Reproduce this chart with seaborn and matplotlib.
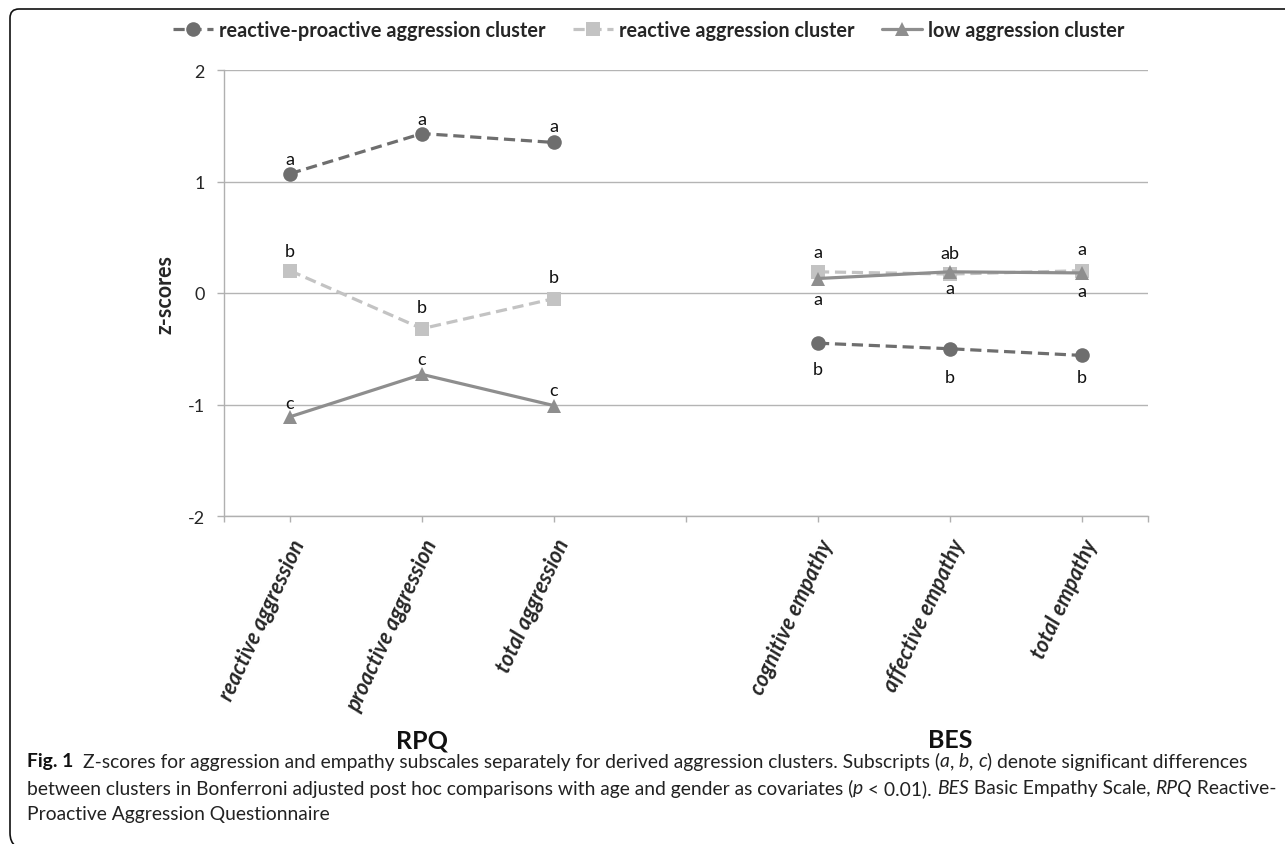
import pandas as pd
import seaborn as sns
import matplotlib.pyplot as plt
from matplotlib.lines import Line2D
from matplotlib.path import Path
from matplotlib.patches import PathPatch

# subscales of the two questionnaires
rpq_items = ["reactive aggression", "proactive aggression", "total aggression"]
bes_items = ["cognitive empathy", "affective empathy", "total empathy"]
scale_names = ["RPQ", "BES"]
cluster_names = ["reactive-proactive aggression cluster",
                 "reactive aggression cluster",
                 "low aggression cluster"]

# z-scores
rp_rpq = [1.07, 1.43, 1.35]
rp_bes = [-0.45, -0.50, -0.56]
re_rpq = [0.20, -0.32, -0.05]
re_bes = [0.19, 0.17, 0.20]
low_rpq = [-1.11, -0.73, -1.01]
low_bes = [0.13, 0.19, 0.18]

# post hoc subscripts
rp_letters = ["a", "a", "a", "b", "b", "b"]
re_letters = ["b", "b", "b", "a", "ab", "a"]
low_letters = ["c", "c", "c", "a", "a", "a"]

W, H = 1285, 845
sns.set_theme(style="white")
plt.rcParams['font.family'] = ['Lato', 'DejaVu Sans']

colors = {cluster_names[0]: "#6e6e6e", cluster_names[1]: "#c3c3c3", cluster_names[2]: "#8e8e8e"}
markers = {cluster_names[0]: "o", cluster_names[1]: "s", cluster_names[2]: "^"}
mksize = {cluster_names[0]: 10.5, cluster_names[1]: 9.5, cluster_names[2]: 10.5}
lstyle = {cluster_names[0]: (0, (3.5, 1.8)), cluster_names[1]: (0, (3.5, 1.8)), cluster_names[2]: "-"}

# long table: positions 0-2 for RPQ, 4-6 for BES (slot 3 is the gap)
rows = []
series = [(cluster_names[0], rp_rpq, rp_bes, rp_letters),
          (cluster_names[1], re_rpq, re_bes, re_letters),
          (cluster_names[2], low_rpq, low_bes, low_letters)]
for name, v_rpq, v_bes, letters in series:
    for i, item in enumerate(rpq_items):
        rows.append(dict(cluster=name, scale="RPQ", item=item, pos=i, z=v_rpq[i], letter=letters[i]))
    for i, item in enumerate(bes_items):
        rows.append(dict(cluster=name, scale="BES", item=item, pos=i + 4, z=v_bes[i], letter=letters[i + 3]))
df = pd.DataFrame(rows)

fig = plt.figure(figsize=(W / 100, H / 100), dpi=100)
ax = fig.add_axes([224 / W, 1 - 517 / H, (1148 - 224) / W, (517 - 71) / H])

for name in cluster_names:
    for sc in scale_names:
        sub = df[(df.cluster == name) & (df.scale == sc)]
        sns.lineplot(data=sub, x="pos", y="z", ax=ax, color=colors[name], linestyle=lstyle[name],
                     lw=2.3, marker=markers[name], markersize=mksize[name], markeredgewidth=0,
                     legend=False, zorder=3)

# subscript letters: above or below the marker (offset in px)
offsets = {
    cluster_names[0]: [15, 15, 16, -26, -28, -22],
    cluster_names[1]: [20, 22, 22, 20, 21, 22],
    cluster_names[2]: [14, 15, 16, -20, -16, -18],
}
for name in cluster_names:
    sub = df[df.cluster == name].reset_index(drop=True)
    for k, r in sub.iterrows():
        ax.annotate(r["letter"], (r["pos"], r["z"]), xytext=(0, offsets[name][k] * 0.72),
                    textcoords="offset points", ha="center", va="center", fontsize=13, color="#111")

ax.set_xlim(-0.5, 6.5)
ax.set_ylim(-2, 2)
ax.set_yticks([-2, -1, 0, 1, 2])
ax.set_yticklabels(["-2", "-1", "0", "1", "2"])
ax.set_xticks(range(7))
ax.set_xticklabels(rpq_items + [""] + bes_items, rotation=65, ha="right", rotation_mode="anchor",
                   fontsize=15.5, fontweight="bold", fontstyle="italic")
ax.set_xticks([-0.5, 6.5], minor=True)
ax.tick_params(axis="x", which="both", direction="out", length=4, width=1, color="#b0b0b0",
               bottom=True, pad=10)
ax.tick_params(axis="y", direction="out", length=5, width=1, color="#b0b0b0", left=True,
               labelsize=13, pad=9)
ax.grid(axis="y", color="#b4b4b4", lw=1)
ax.set_xlabel("")
ax.set_ylabel("z-scores", fontsize=15.5, fontweight="bold")
ax.yaxis.set_label_coords(-0.052, 0.5)
for s in ["top", "right"]:
    ax.spines[s].set_visible(False)
for s in ["left", "bottom"]:
    ax.spines[s].set_color("#b0b0b0")
    ax.spines[s].set_linewidth(1)

# questionnaire names under each block
for sc, center in zip(scale_names, [1, 5]):
    fig.text((224 + (center + 0.5) * 132) / W, 1 - 741 / H, sc, ha="center", va="center",
             fontsize=18, fontweight="bold", color="#111")

# legend
handles = [Line2D([], [], color=colors[n], linestyle=lstyle[n], lw=2.3, marker=markers[n],
                  markersize=mksize[n], markeredgewidth=0) for n in cluster_names]
fig.legend(handles, cluster_names, loc="center", bbox_to_anchor=(0.505, 1 - 31 / H), ncol=3,
           frameon=False, handlelength=2.0, handletextpad=0.3, columnspacing=1.4,
           prop=dict(family="Lato", weight="bold", size=14.3))

# caption with mixed styles
renderer = fig.canvas.get_renderer()


def run_width(s, **kw):
    t1 = fig.text(0, 0, s + "|", **kw)
    t2 = fig.text(0, 0, "|", **kw)
    w = t1.get_window_extent(renderer).width - t2.get_window_extent(renderer).width
    t1.remove()
    t2.remove()
    return w


def draw_runs(x_px, y_px, runs, size=12):
    x = x_px
    for s, st in runs:
        kw = dict(fontsize=size, color="#222", family="Lato")
        if st == "b":
            kw["fontweight"] = "bold"
            kw["color"] = "#111"
        elif st == "i":
            kw["fontstyle"] = "italic"
        fig.text(x / W, 1 - y_px / H, s, ha="left", va="center", **kw)
        x += run_width(s, **kw)


cap_size = 13.9
draw_runs(27, 762, [("Fig. 1  ", "b"),
                    ("Z-scores for aggression and empathy subscales separately for derived aggression clusters. Subscripts (", "r"),
                    ("a", "i"), (", ", "r"), ("b", "i"), (", ", "r"), ("c", "i"),
                    (") denote significant differences", "r")], cap_size)
draw_runs(27, 789, [("between clusters in Bonferroni adjusted post hoc comparisons with age and gender as covariates (", "r"),
                    ("p", "i"), (" < 0.01). ", "r"), ("BES", "i"), (" Basic Empathy Scale, ", "r"),
                    ("RPQ", "i"), (" Reactive-", "r")], cap_size)
draw_runs(27, 815, [("Proactive Aggression Questionnaire", "r")], cap_size)

# frame: top line and left side with rounded corners
r = 9
pts = [(W + 5, 10), (10 + r, 10), (10, 10), (10, 10 + r), (10, H - 2 - r), (10, H - 2), (10 + r * 0.6, H + 2)]
codes = [Path.MOVETO, Path.LINETO, Path.CURVE3, Path.CURVE3, Path.LINETO, Path.CURVE3, Path.CURVE3]
verts = [(x / W, 1 - y / H) for x, y in pts]
fig.add_artist(PathPatch(Path(verts, codes), fill=False, lw=1.2, edgecolor="#111",
                         transform=fig.transFigure, clip_on=False))

fig.savefig("out.png", dpi=100)
